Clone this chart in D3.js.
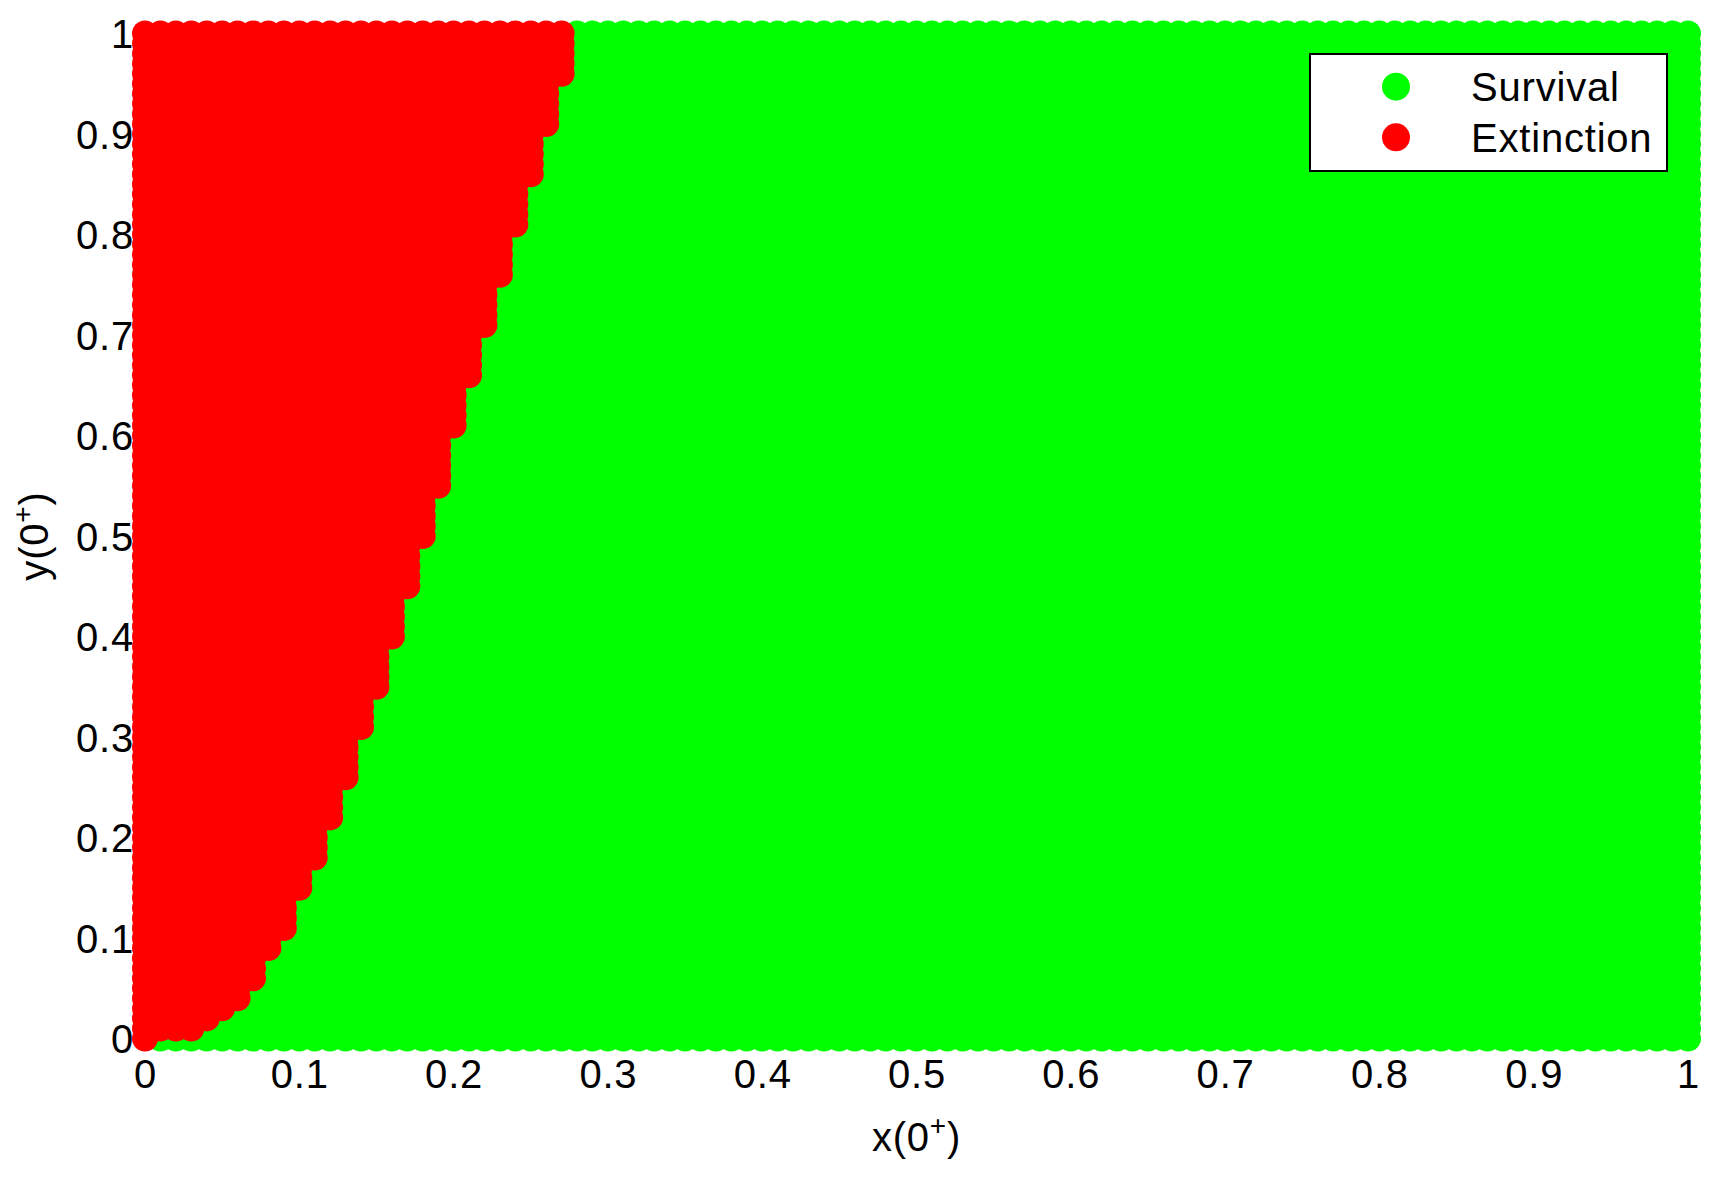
<!DOCTYPE html>
<html>
<head>
<meta charset="utf-8">
<script src="https://cdn.jsdelivr.net/npm/d3@7"></script>
<style>
  body { margin: 0; background: #fff; }
  svg { display: block; }
  text { font-family: "Liberation Sans", Arial, sans-serif; fill: #000; letter-spacing: 0.8px; }
</style>
</head>
<body>
<svg id="chart" width="1716" height="1178"></svg>
<script>
// initial conditions sampled on the grid 0:0.01:1 for both x(0+) and y(0+)
var gridX = d3.range(0, 101).map(function(i) { return i / 100; });
var gridY = d3.range(0, 101).map(function(i) { return i / 100; });

// boundary: for each x(0+) column, lowest y(0+) that goes extinct
var boundaryX = [0.00, 0.01, 0.02, 0.03, 0.04, 0.05, 0.06, 0.07, 0.08, 0.09,
                 0.10, 0.11, 0.12, 0.13, 0.14, 0.15, 0.16, 0.17, 0.18, 0.19,
                 0.20, 0.21, 0.22, 0.23, 0.24, 0.25, 0.26, 0.27];
var boundaryY = [0.00, 0.01, 0.01, 0.01, 0.02, 0.03, 0.04, 0.06, 0.09, 0.11,
                 0.15, 0.18, 0.22, 0.26, 0.31, 0.35, 0.40, 0.45, 0.50, 0.55,
                 0.61, 0.66, 0.71, 0.76, 0.81, 0.86, 0.91, 0.96];

var xTicks = [0, 0.1, 0.2, 0.3, 0.4, 0.5, 0.6, 0.7, 0.8, 0.9, 1];
var yTicks = [0, 0.1, 0.2, 0.3, 0.4, 0.5, 0.6, 0.7, 0.8, 0.9, 1];
var tickLabels = ["0", "0.1", "0.2", "0.3", "0.4", "0.5", "0.6", "0.7", "0.8", "0.9", "1"];

var seriesNames = ["Survival", "Extinction"];
var seriesColors = ["#00ff00", "#ff0000"];

var svg = d3.select("#chart");
var x = d3.scaleLinear().domain([0, 1]).range([145, 1688]);
var y = d3.scaleLinear().domain([0, 1]).range([1038.5, 33.5]);
var fontSize = 40;

// split the grid into the two outcomes
var survival = [], extinction = [];
gridX.forEach(function(xv, i) {
  var k = boundaryX.findIndex(function(b) { return Math.abs(b - xv) < 1e-9; });
  var limit = k >= 0 ? boundaryY[k] : Infinity;
  gridY.forEach(function(yv) {
    if (yv >= limit - 1e-9) extinction.push([xv, yv]);
    else survival.push([xv, yv]);
  });
});

// axes (tick labels only, the dots hide the axis lines)
var xAxis = svg.append("g")
  .attr("transform", "translate(0," + y(0) + ")")
  .call(d3.axisBottom(x).tickValues(xTicks).tickSize(0).tickPadding(21)
    .tickFormat(function(d, i) { return tickLabels[i]; }));
var yAxis = svg.append("g")
  .attr("transform", "translate(" + x(0) + ",0)")
  .call(d3.axisLeft(y).tickValues(yTicks).tickSize(0).tickPadding(11)
    .tickFormat(function(d, i) { return tickLabels[i]; }));
svg.selectAll(".domain").remove();
svg.selectAll(".tick text")
  .attr("font-family", null)
  .style("font-size", fontSize + "px");
yAxis.selectAll(".tick text").attr("dy", "0.36em");

// scatter dots, extinction drawn last so it sits on top
var dots = svg.append("g");
dots.selectAll("circle.surv")
  .data(survival)
  .enter()
  .append("circle")
  .attr("class", "surv")
  .attr("cx", function(d) { return x(d[0]); })
  .attr("cy", function(d) { return y(d[1]); })
  .attr("r", 13)
  .attr("fill", seriesColors[0]);
dots.selectAll("circle.ext")
  .data(extinction)
  .enter()
  .append("circle")
  .attr("class", "ext")
  .attr("cx", function(d) { return x(d[0]); })
  .attr("cy", function(d) { return y(d[1]); })
  .attr("r", 13)
  .attr("fill", seriesColors[1]);

// axis labels
var xl = svg.append("text")
  .attr("x", (x(0) + x(1)) / 2)
  .attr("y", 1151)
  .attr("text-anchor", "middle")
  .style("font-size", fontSize + "px");
xl.append("tspan").text("x(0");
xl.append("tspan").attr("dy", -16).style("font-size", "28px").text("+");
xl.append("tspan").attr("dy", 16).text(")");

var yl = svg.append("text")
  .attr("transform", "translate(48," + (y(0) + y(1)) / 2 + ") rotate(-90)")
  .attr("text-anchor", "middle")
  .style("font-size", fontSize + "px");
yl.append("tspan").text("y(0");
yl.append("tspan").attr("dy", -16).style("font-size", "28px").text("+");
yl.append("tspan").attr("dy", 16).text(")");

// legend
var legend = svg.append("g");
legend.append("rect")
  .attr("x", 1310).attr("y", 54)
  .attr("width", 357).attr("height", 117)
  .attr("fill", "#fff")
  .attr("stroke", "#000")
  .attr("stroke-width", 2);
seriesNames.forEach(function(name, i) {
  legend.append("circle")
    .attr("cx", 1396)
    .attr("cy", 86.7 + i * 50.6)
    .attr("r", 14)
    .attr("fill", seriesColors[i]);
  legend.append("text")
    .attr("x", 1471)
    .attr("y", 100.7 + i * 51)
    .style("font-size", fontSize + "px")
    .text(name);
});
</script>
</body>
</html>
